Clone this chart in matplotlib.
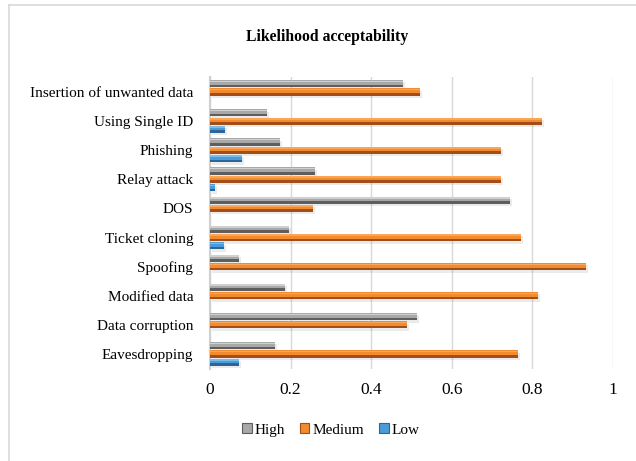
import numpy as np
import matplotlib.pyplot as plt
from matplotlib.lines import Line2D
from matplotlib.patches import Patch

plt.rcParams['font.family'] = ['Liberation Serif', 'DejaVu Serif']

categories = ['Eavesdropping', 'Data corruption', 'Modified data', 'Spoofing',
              'Ticket cloning', 'DOS', 'Relay attack', 'Phishing',
              'Using Single ID', 'Insertion of unwanted data']
high = [0.161, 0.513, 0.186, 0.072, 0.196, 0.745, 0.261, 0.174, 0.141, 0.48]
medium = [0.765, 0.488, 0.815, 0.932, 0.772, 0.256, 0.722, 0.722, 0.825, 0.52]
low = [0.073, 0.0, 0.0, 0.0, 0.034, 0.0, 0.013, 0.079, 0.036, 0.0]

series = [
    ('High', high, '#a8a8a8', '#5e5e5e', '#d0d0d0'),
    ('Medium', medium, '#f28a2e', '#a34e17', '#fba55a'),
    ('Low', low, '#4b9bd8', '#2d6598', '#7dbbe8'),
]

fig = plt.figure(figsize=(6.36, 4.61), dpi=100)
ax = fig.add_axes([210 / 636, 1 - 368.5 / 461, 403 / 636, 291 / 461])

y = np.arange(len(categories))
h = 0.25
offsets = [0.285, 0.0, -0.285]

for (name, vals, col, dark, light), off in zip(series, offsets):
    pos = y + off
    # soft shadow
    ax.barh(pos - 0.08, vals, height=h, left=0.005, color='#000000', alpha=0.08,
            zorder=2, linewidth=0)
    ax.barh(pos, vals, height=h, color=dark, zorder=3, linewidth=0)
    ax.barh(pos + h * 0.18, vals, height=h * 0.64, color=col, zorder=4, linewidth=0)
    ax.barh(pos + h * 0.32, vals, height=h * 0.2, color=light, zorder=5, linewidth=0)

ax.set_xlim(0, 1)
ax.set_ylim(-0.5, 9.5)
ax.set_xticks([0, 0.2, 0.4, 0.6, 0.8, 1])
ax.set_xticklabels(['0', '0.2', '0.4', '0.6', '0.8', '1'])
ax.set_yticks(y)
ax.set_yticklabels(categories)
ax.tick_params(axis='both', length=0, colors='#000000')
ax.tick_params(axis='x', pad=10, labelsize=12.5)
ax.tick_params(axis='y', pad=12, labelsize=11)
ax.grid(axis='x', color='#d9d9d9', linewidth=1, zorder=0)
ax.set_axisbelow(True)
for s in ['top', 'right', 'bottom']:
    ax.spines[s].set_visible(False)
ax.spines['left'].set_color('#d0d0d0')
ax.spines['left'].set_linewidth(1.5)

fig.text(327 / 636, 1 - 37 / 461, 'Likelihood acceptability', ha='center',
         va='center', fontsize=11.3, fontweight='bold')

handles = [Patch(facecolor=s[2], edgecolor=s[3], linewidth=0.8) for s in series]
fig.legend(handles, [s[0] for s in series], loc='center', ncol=3,
           bbox_to_anchor=(331 / 636, 1 - 430 / 461), frameon=False,
           fontsize=11, handlelength=0.6, handleheight=0.6,
           handletextpad=0.2, columnspacing=1.0)

# chart frame (left and top edges visible)
fig.add_artist(Line2D([8.5 / 636, 8.5 / 636], [0, 1 - 5 / 461], color='#d9d9d9',
                      linewidth=1.2, transform=fig.transFigure))
fig.add_artist(Line2D([8.5 / 636, 1], [1 - 5 / 461, 1 - 5 / 461], color='#d9d9d9',
                      linewidth=1.2, transform=fig.transFigure))

fig.savefig('out.png', dpi=100)
